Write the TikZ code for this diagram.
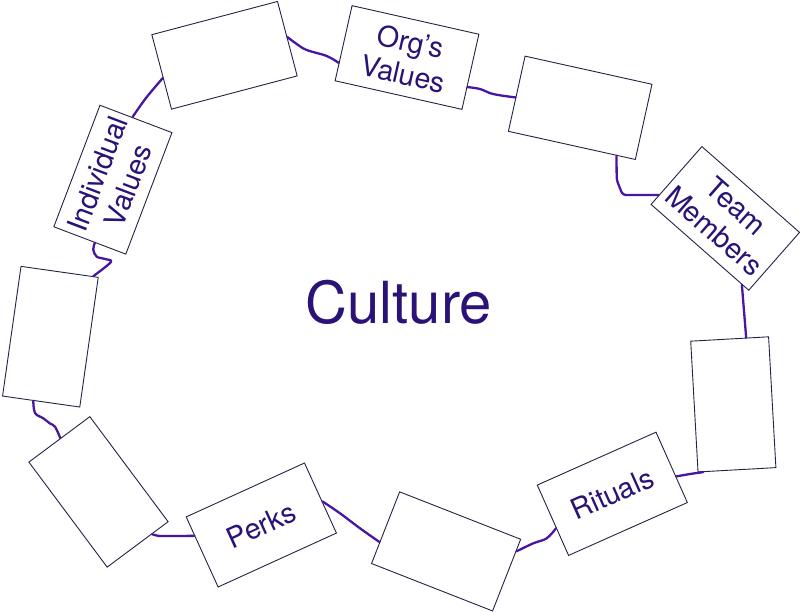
\documentclass[tikz,border=0pt]{standalone}
\usepackage{fontspec}
\setmainfont{TeX Gyre Heros}
\usetikzlibrary{calc}
\definecolor{linkc}{RGB}{72,22,160}
\definecolor{textc}{RGB}{42,18,118}
\definecolor{boxc}{RGB}{35,35,70}
\begin{document}
\begin{tikzpicture}[x=1pt,y=-1pt,
  card/.style={draw=boxc, line width=0.9pt, fill=white, rectangle, inner sep=0pt,
    minimum width=130pt, minimum height=77pt, text=textc, align=center,
    font=\fontsize{28.5}{33}\selectfont},
  upright/.style={minimum width=78pt, minimum height=131pt},
  link/.style={draw=linkc, line width=2.3pt, line cap=round, line join=round}]
\useasboundingbox (0,0) rectangle (800,612);

% boxes
\node[card, rotate=14.8]  (b1)  at (224.5,55.3) {};
\node[card, rotate=-12.7] (b2)  at (407,57.5) {Org’s\\Values};
\node[card, rotate=-12.5] (b3)  at (580.2,107.8) {};
\node[card, rotate=-41.3] (b4)  at (725.3,218.4) {Team\\Members};
\node[card, upright, rotate=3.2] (b5) at (733.3,404.4) {};
\node[card, rotate=24]    (b6)  at (612.3,493.8) {Rituals};
\node[card, rotate=-21.4] (b7)  at (446.1,551.4) {};
\node[card, rotate=24.5]  (b8)  at (261.3,525) {Perks};
\node[card, upright, minimum width=76pt, rotate=36.7] (b9) at (98.5,491.9) {};
\node[card, upright, rotate=-8.1] (b10) at (50.4,336.7) {};
\node[card, rotate=69.2]  (b11) at (112.9,179.7) {Individual\\Values};

\node[text=textc, font=\fontsize{58}{60}\selectfont, anchor=base] (culture) at (399,323) {Culture};

% connector end points
\coordinate (c1s) at ($(b11.north east)!0.45!(b11.south east)$);
\coordinate (c1e) at ($(b1.north west)!0.58!(b1.south west)$);
\coordinate (c2s) at ($(b1.north east)!0.48!(b1.south east)$);
\coordinate (c2e) at ($(b2.north west)!0.76!(b2.south west)$);
\coordinate (c3s) at ($(b2.north east)!0.70!(b2.south east)$);
\coordinate (c3e) at ($(b3.north west)!0.55!(b3.south west)$);
\coordinate (c4s) at ($(b3.south west)!0.85!(b3.south east)$);
\coordinate (c4e) at ($(b4.north west)!0.84!(b4.south west)$);
\coordinate (c5s) at ($(b4.south west)!0.93!(b4.south east)$);
\coordinate (c5e) at ($(b5.north west)!0.71!(b5.north east)$);
\coordinate (c6s) at ($(b5.south west)!0.07!(b5.south east)$);
\coordinate (c6e) at ($(b6.north east)!0.63!(b6.south east)$);
\coordinate (c7s) at ($(b6.north west)!0.61!(b6.south west)$);
\coordinate (c7e) at ($(b7.north east)!0.17!(b7.south east)$);
\coordinate (c8s) at ($(b7.north west)!0.70!(b7.south west)$);
\coordinate (c8e) at ($(b8.north east)!0.55!(b8.south east)$);
\coordinate (c9s) at ($(b8.north west)!0.27!(b8.south west)$);
\coordinate (c9e) at ($(b9.south east)!0.27!(b9.south west)$);
\coordinate (c10s) at ($(b9.north west)!0.52!(b9.north east)$);
\coordinate (c10e) at ($(b10.south west)!0.40!(b10.south east)$);
\coordinate (c11s) at ($(b10.north west)!0.93!(b10.north east)$);
\coordinate (c11e) at ($(b11.north west)!0.57!(b11.south west)$);

% connectors
\draw[link] plot[smooth, tension=0.6] coordinates {(c1s) (146,98) (c1e)};
\draw[link] plot[smooth, tension=0.6] coordinates {(c2s) (296.7,44) (306.7,50) (326.7,56) (c2e)};
\draw[link] plot[smooth, tension=0.6] coordinates {(c3s) (480,89) (493,94) (c3e)};
\draw[link, rounded corners=3pt] (c4s) -- (616.7,180) -- (622.7,195) -- (c4e);
\draw[link] (c5s) -- (c5e);
\draw[link] plot[smooth, tension=0.6] coordinates {(c6s) (690,474) (c6e)};
\draw[link] plot[smooth, tension=0.6] coordinates {(c7s) (546.7,538.3) (533.3,543.3) (c7e)};
\draw[link] plot[smooth, tension=0.6] coordinates {(c8s) (360,528.3) (340,513.3) (c8e)};
\draw[link] plot[smooth, tension=0.6] coordinates {(c9s) (163.3,536) (156.7,535.5) (c9e)};
\draw[link] plot[smooth, tension=0.6] coordinates {(c10s) (55,426.7) (50,423.5) (43.3,418.3) (35,413) (c10e)};
\draw[link] plot[smooth, tension=0.5] coordinates {(c11s) (111,262) (105,259) (96.7,256.7) (93.3,250) (c11e)};
\end{tikzpicture}
\end{document}
